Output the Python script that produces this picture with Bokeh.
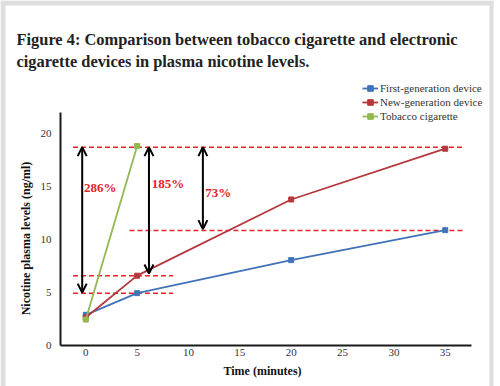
import math
from bokeh.plotting import figure
from bokeh.models import (Label, Arrow, OpenHead, Legend, LegendItem, Range1d,
                          ColumnDataSource, BoxAnnotation)
from bokeh.core.properties import value
from bokeh.embed import file_html
from bokeh.resources import INLINE

# ---- data ----
time_first = [0, 5, 20, 35]
first_gen = [2.9, 4.95, 8.07, 10.9]
time_new = [0, 5, 20, 35]
new_gen = [2.65, 6.6, 13.8, 18.6]
time_tob = [0, 5]
tobacco = [2.45, 18.85]

ref_y = [18.75, 10.87, 6.6, 4.95]
ref_x0 = [-1.25, 4.25, -1.25, -1.25]
ref_x1 = [36.8, 36.8, 8.5, 8.5]

arrow_x = [-0.35, 6.15, 11.4]
arrow_top = [18.75, 18.75, 18.75]
arrow_bottom = [5.0, 6.8, 11.0]

pct_labels = ["286%", "185%", "73%"]
pct_x = [1.4, 8.0, 12.9]
pct_y = [14.9, 15.3, 14.5]

x_ticks = [0, 5, 10, 15, 20, 25, 30, 35]
y_ticks = [0, 5, 10, 15, 20]
x_axis_range = (-2.47, 37.55)
y_axis_range = (0, 22)

title_lines = ["Figure 4: Comparison between tobacco cigarette and electronic",
               "cigarette devices in plasma nicotine levels."]

BLUE = "#4272b8"
RED = "#b5373c"
GREEN = "#93b752"
ANN_RED = "#e3242b"
SERIF = "Liberation Serif"
W, H = 500, 386

# pixel <-> data helpers for placing text annotations
X0PX, XS = 85.3, 10.27
Y0PX, YS = 345.0, 10.58
def dx(px):
    return (px - X0PX) / XS
def dy(py):
    return (Y0PX - py) / YS

p = figure(width=W, height=H, title=None, toolbar_location=None,
           output_backend="svg",
           x_range=Range1d(dx(0), dx(W)), y_range=Range1d(dy(H), dy(0)),
           min_border=0, min_border_left=0, min_border_right=0,
           min_border_top=0, min_border_bottom=0)
p.outline_line_color = None
p.xgrid.visible = False
p.ygrid.visible = False
p.background_fill_color = "white"
p.border_fill_color = "white"

# card border
p.add_layout(BoxAnnotation(left=0, right=5, left_units="screen", right_units="screen",
                           fill_color="#dedede", fill_alpha=1, line_color=None))
p.add_layout(BoxAnnotation(left=489, right=493, left_units="screen", right_units="screen",
                           fill_color="#dedede", fill_alpha=1, line_color=None))
p.add_layout(BoxAnnotation(bottom=dy(5), top=dy(0), left=dx(0), right=dx(493),
                           fill_color="#dedede", fill_alpha=1, line_color=None))

for ax in (p.xaxis[0], p.yaxis[0]):
    ax.axis_line_width = 2
    ax.axis_line_color = "#1a1a1a"
    ax.major_tick_line_color = None
    ax.minor_tick_line_color = None
    ax.major_tick_out = 0
    ax.major_tick_in = 0
    ax.minor_tick_out = 0
    ax.minor_tick_in = 0
    ax.major_label_text_font = SERIF
    ax.major_label_text_font_size = "11px"
    ax.major_label_text_color = "#333333"

p.xaxis.ticker = x_ticks
p.yaxis.ticker = y_ticks
p.xaxis.bounds = x_axis_range
p.yaxis.bounds = y_axis_range
p.xaxis.fixed_location = y_axis_range[0]
p.yaxis.fixed_location = x_axis_range[0]
p.xaxis.major_label_standoff = 3
p.yaxis.major_label_standoff = 9

# axis titles
p.add_layout(Label(x=dx(262), y=dy(370), text="Time (minutes)", text_font=SERIF,
                   text_font_style="bold", text_font_size="12px", text_color="#111111",
                   text_align="center", text_baseline="middle"))
p.add_layout(Label(x=dx(25), y=dy(238), text="Nicotine plasma levels (ng/ml)",
                   text_font=SERIF, text_font_style="bold", text_font_size="12px",
                   text_color="#111111", text_align="center", text_baseline="middle",
                   angle=math.pi / 2))

# reference dashed lines
p.segment(x0=ref_x0, y0=ref_y, x1=ref_x1, y1=ref_y, line_color=ANN_RED,
          line_width=1.5, line_dash="5 3")

# series
l1 = p.line(time_first, first_gen, line_color=BLUE, line_width=1.8)
s1 = p.scatter(time_first, first_gen, marker="square", size=5,
               fill_color=BLUE, line_color=BLUE)
l2 = p.line(time_new, new_gen, line_color=RED, line_width=1.8)
s2 = p.scatter(time_new, new_gen, marker="square", size=5,
               fill_color=RED, line_color=RED)
l3 = p.line(time_tob, tobacco, line_color=GREEN, line_width=1.8)
s3 = p.scatter(time_tob, tobacco, marker="square", size=5,
               fill_color=GREEN, line_color=GREEN)

# double arrows
asrc = ColumnDataSource(dict(x=arrow_x, y0=arrow_bottom, y1=arrow_top))
p.add_layout(Arrow(x_start="x", y_start="y0", x_end="x", y_end="y1",
                   source=asrc, line_width=2, line_color="black",
                   start=OpenHead(size=9, line_width=2, line_color="black"),
                   end=OpenHead(size=9, line_width=2, line_color="black")))

# percentage labels
p.text(x=pct_x, y=pct_y, text=pct_labels, text_font=value(SERIF),
       text_font_style="bold", text_font_size="13px", text_color=ANN_RED,
       text_align="center", text_baseline="middle")

# legend
legend = Legend(items=[
    LegendItem(label="First-generation device", renderers=[l1, s1]),
    LegendItem(label="New-generation device", renderers=[l2, s2]),
    LegendItem(label="Tobacco cigarette", renderers=[l3, s3]),
], location=(362, H - 80 - 43))
legend.label_text_font = SERIF
legend.label_text_font_size = "11px"
legend.label_text_color = "#333333"
legend.glyph_width = 16
legend.glyph_height = 14
legend.label_height = 14
legend.label_standoff = 2
legend.spacing = 0
legend.padding = 0
legend.margin = 0
legend.border_line_color = None
legend.background_fill_alpha = 0
p.add_layout(legend)

# title (two lines)
p.add_layout(Label(x=dx(16), y=dy(38.5), text=title_lines[0], text_font=SERIF,
                   text_font_style="bold", text_font_size="16.4px",
                   text_color="#222222", text_baseline="alphabetic"))
p.add_layout(Label(x=dx(16), y=dy(61), text=title_lines[1], text_font=SERIF,
                   text_font_style="bold", text_font_size="16.4px",
                   text_color="#222222", text_baseline="alphabetic"))

open("out.html", "w").write(file_html(p, INLINE))
